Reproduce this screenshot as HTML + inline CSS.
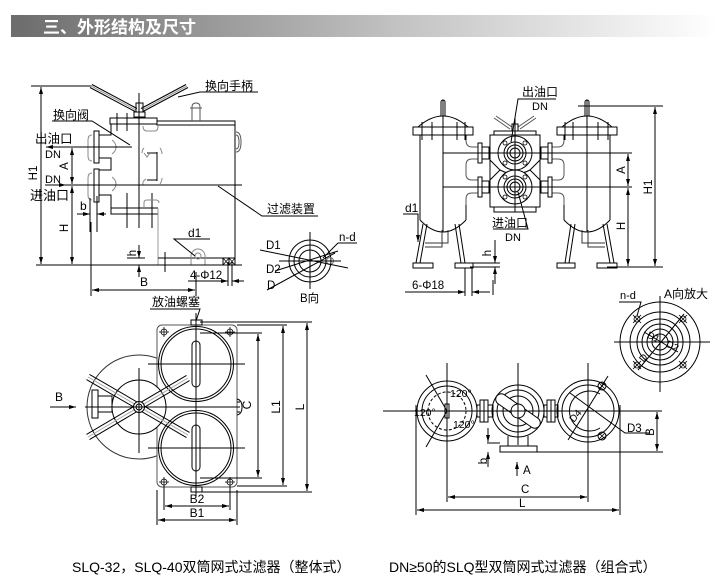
<!DOCTYPE html>
<html><head><meta charset="utf-8"><style>
html,body{margin:0;padding:0;background:#fff;}
svg{display:block;font-family:"Liberation Sans","Noto Sans CJK SC",sans-serif;}
</style></head><body>
<svg width="718" height="583" viewBox="0 0 718 583" xmlns="http://www.w3.org/2000/svg">
<defs>
<linearGradient id="g" x1="0" x2="1" y1="0" y2="0"><stop offset="0" stop-color="#6c6c6c"/><stop offset="0.55" stop-color="#c3c3c3"/><stop offset="1" stop-color="#fff"/></linearGradient>
<marker id="m" markerWidth="7" markerHeight="4" refX="7" refY="2" orient="auto-start-reverse" markerUnits="userSpaceOnUse"><path d="M0,0L7,2L0,4z" fill="#000"/></marker>
</defs>

<!-- header -->
<rect x="11" y="15" width="707" height="22" fill="url(#g)"/>
<text x="43" y="33" font-size="17" font-weight="bold" fill="#fff">三、外形结构及尺寸</text>

<!-- ============ LEFT TOP (side view) ============ -->
<g stroke="#000" stroke-width="1" fill="none">
<path d="M31,86H92"/>
<path d="M41,87V264" marker-start="url(#m)" marker-end="url(#m)"/>
<path d="M92,84.5L137,108.5M90,87.5L135,111.5M186,84.5L141,108.5M188,87.5L143,111.5"/>
<path d="M91,86L136,110M187,86L142,110" stroke="#999"/>
<rect x="136" y="103" width="7" height="9"/>
<rect x="134" y="112" width="11" height="5"/>
<path d="M139,93V228"/>
<rect x="110" y="118" width="47" height="6"/>
<rect x="157" y="121" width="78" height="4"/>
<path d="M117,113V131M127,113V131"/>
<path d="M143,126q0,5 4,5h8q3,0 3,-5" stroke="#888"/>
<path d="M192,121V107q0,-4 4,-4q4,0 4,4V121M190,108H202" stroke="#555"/>
<path d="M236,132q5,0 5,10q0,10 -5,10M236,135q3,0 3,7q0,7 -3,7" stroke="#555"/>
<path d="M235,125V265"/>
<!-- valve body left -->
<path d="M111,124V135H99M99,158H111V170H99M99,195H111V214H158M111,208H158"/>
<rect x="94" y="131" width="5" height="32"/>
<rect x="94" y="169" width="5" height="33"/>
<path d="M92,135q-4,0 -4,5v16q0,5 4,5M92,173q-4,0 -4,5v17q0,5 4,5" stroke="#888"/>
<path d="M112,140q4,3 4,7q0,4 -4,7M112,177q4,3 4,7q0,4 -4,7" stroke="#888"/>
<!-- filter element -->
<path d="M157,152V181M147,153H157M147,180H157"/>
<path d="M144,148q-2,2 -2,5M144,153l3,4l3,-4M143,185q-1,-4 3,-6M160,148q2,3 2,6M160,184q2,-3 2,-6" stroke="#888"/>
<!-- bottom bolts -->
<path d="M127,193V228M152,193V228"/>
<path d="M144,208v-5q0,-3 3,-3h9q3,0 3,3" stroke="#888"/>
<path d="M158,208V265M158,265H200" stroke="#999"/>
<path d="M158,258H223"/>
<path d="M191,265V256a7,7 0 0 1 14,0V265" stroke="#888"/>
<circle cx="198" cy="256" r="3" stroke="#888"/>
<rect x="223" y="258" width="6" height="7"/><rect x="229" y="258" width="6" height="7"/>
<path d="M223,258l6,7M229,258l-6,7M229,258l6,7M235,258l-6,7" stroke-width="0.7"/>
<path d="M36,265H242"/>
<path d="M45,185H242"/>
<path d="M132,147H46" marker-end="url(#m)"/>
<path d="M45,185H66" marker-end="url(#m)"/>
<!-- A / H dims -->
<path d="M72,148V184" marker-start="url(#m)" marker-end="url(#m)"/>
<path d="M72,186V264" marker-start="url(#m)" marker-end="url(#m)"/>
<!-- b dim -->
<path d="M90,198V232M97,196V232"/>
<path d="M77,214H90" marker-end="url(#m)"/>
<path d="M106,214H97" marker-end="url(#m)"/>
<!-- h dim -->
<path d="M127,258H145M127,265H145"/>
<path d="M139,245V258" marker-end="url(#m)"/>
<path d="M139,277V265" marker-end="url(#m)"/>
<path d="M165,252V272"/>
<!-- 4-phi12 -->
<path d="M228,262V286M232,262V286"/>
<path d="M188,281H228" marker-end="url(#m)"/>
<path d="M244,281H232" marker-end="url(#m)"/>
<!-- B dim -->
<path d="M91,222V296M196,272V296"/>
<path d="M92,290H195" marker-start="url(#m)" marker-end="url(#m)"/>
<!-- leaders -->
<path d="M52,121H92L130,145"/>
<path d="M258,92H200L178,97"/>
<path d="M318,216H262L218,186"/>
<path d="M210,239H174L195,256"/>
</g>
<g font-size="12" fill="#000">
<text x="205" y="90">换向手柄</text>
<text x="53" y="119">换向阀</text>
<text x="35" y="143" font-size="12.5">出油口</text>
<text x="45" y="158" font-size="11">DN</text>
<text x="45" y="183" font-size="11">DN</text>
<text x="30" y="200" font-size="13">进油口</text>
<text x="80" y="210">b</text>
<text x="267" y="213">过滤装置</text>
<text x="188" y="237">d1</text>
<text x="190" y="279" font-size="11.5">4-Φ12</text>
<text x="140" y="286">B</text>
<text transform="translate(37,173) rotate(-90)" text-anchor="middle" font-size="11.5">H1</text>
<text transform="translate(68,166) rotate(-90)" text-anchor="middle" font-size="11.5">A</text>
<text transform="translate(68,228) rotate(-90)" text-anchor="middle" font-size="11.5">H</text>
<text transform="translate(136,253) rotate(-90)" text-anchor="middle" font-size="11.5">h</text>
</g>

<!-- B向 view -->
<g stroke="#000" stroke-width="1" fill="none">
<circle cx="310" cy="261" r="21"/>
<circle cx="310" cy="261" r="16"/>
<circle cx="310" cy="261" r="11"/>
<circle cx="330" cy="261" r="3.5" stroke="#777"/>
<path d="M310,232V289M279,261H341"/>
<path d="M260,250L348,268M275,271L338,251M267,290L335,253"/>
<path d="M357,243H338L323,258"/>
</g>
<g font-size="11.5" fill="#000">
<text x="266" y="249">D1</text>
<text x="266" y="273">D2</text>
<text x="267" y="289">D</text>
<text x="339" y="241">n-d</text>
<text x="300" y="302">B向</text>
</g>

<!-- ============ LEFT BOTTOM (top view) ============ -->
<g stroke="#000" stroke-width="1" fill="none">
<path d="M150,309H200L196,321"/>
<circle cx="139" cy="407" r="52" stroke="#333"/>
<rect x="157" y="325" width="80" height="162" rx="5" stroke="#555" fill="#fff"/>
<rect x="191" y="320" width="11" height="5"/>
<rect x="191" y="487" width="11" height="5"/>
<circle cx="196" cy="364" r="37.5" fill="#fff"/><circle cx="196" cy="364" r="35"/>
<circle cx="196" cy="448" r="37.5" fill="#fff"/><circle cx="196" cy="448" r="35"/>
<rect x="192" y="341" width="8" height="46" rx="4"/>
<rect x="192" y="425" width="8" height="46" rx="4"/>
<path d="M196,313V496"/>
<path d="M148,364H245M148,448H245"/>
<g stroke-width="0.8">
<circle cx="164" cy="332" r="3"/><circle cx="230" cy="332" r="3"/><circle cx="164" cy="482" r="3"/><circle cx="230" cy="482" r="3"/>
<path d="M159,332h10M164,327v10M225,332h10M230,327v10M159,482h10M164,477v10M225,482h10M230,477v10"/>
</g>
<circle cx="139" cy="407" r="27" fill="#fff"/>
<path d="M89.5,374.4L189.5,432.4M86.5,379.6L186.5,437.6M86.5,434.4L186.5,375.4M89.5,439.6L189.5,380.6"/>
<path d="M88,377L188,435M88,437L188,378" stroke="#aaa"/>
<circle cx="139" cy="407" r="5.5" fill="#fff"/><circle cx="139" cy="407" r="3"/>
<path d="M139,368V453M85,407H240"/>
<rect x="92" y="390" width="6" height="28"/>
<rect x="98" y="396" width="14" height="16"/>
<path d="M237,399q5,1 5,8q0,7 -5,8M237,402h3M237,412h3"/>
<path d="M50,407H76" marker-end="url(#m)"/>
<!-- dims -->
<path d="M200,333H262M200,478H262M237,325H287M237,486H287M200,322H312M200,492H312"/>
<path d="M258,334V477" marker-start="url(#m)" marker-end="url(#m)"/>
<path d="M283,326V485" marker-start="url(#m)" marker-end="url(#m)"/>
<path d="M307,323V491" marker-start="url(#m)" marker-end="url(#m)"/>
<path d="M164,485V510M230,485V510M157,490V525M237,490V525"/>
<path d="M165,506H229" marker-start="url(#m)" marker-end="url(#m)"/>
<path d="M158,520H236" marker-start="url(#m)" marker-end="url(#m)"/>
</g>
<g font-size="12" fill="#000">
<text x="152" y="306">放油螺塞</text>
<text x="55" y="401">B</text>
<text x="197" y="503" text-anchor="middle">B2</text>
<text x="197" y="517" text-anchor="middle">B1</text>
<text transform="translate(251,405) rotate(-90)" text-anchor="middle">C</text>
<text transform="translate(280,407) rotate(-90)" text-anchor="middle">L1</text>
<text transform="translate(304,407) rotate(-90)" text-anchor="middle">L</text>
</g>

<!-- ============ RIGHT TOP (front view, combined) ============ -->
<g stroke="#000" stroke-width="1" fill="none" id="lt">
<path d="M441,116V102a2,2 0 0 1 4,0V116"/>
<path d="M418,127Q443,105 468,127"/>
<rect x="413" y="127" width="60" height="8"/>
<path d="M422,122V140M432,122V140M457,122V140M465,122V140"/>
<path d="M420,135V220M466,135V140M466,200V220"/>
<path d="M420,220Q443,244 466,220"/>
<path d="M466,140q0,7 6,7h6M478,159h-6q-6,0 -6,6v9q0,6 6,6h6M478,193h-6q-6,0 -6,6V205" stroke="#555"/>
<rect x="478" y="143" width="4" height="20"/><rect x="482" y="147" width="7" height="12"/>
<rect x="478" y="177" width="4" height="20"/><rect x="482" y="181" width="7" height="12"/>
<path d="M423,224L416,263M427,224L420,263M455,224L461,263M459,224L465,263"/>
<rect x="413" y="263" width="20" height="5"/>
<rect x="455" y="263" width="18" height="5"/>
<path d="M442,230V247H425M448,230V243H425" stroke="#333"/>
<path d="M443,100V232"/>
</g>
<use href="#lt" transform="matrix(-1,0,0,1,1030,0)"/>
<g stroke="#000" stroke-width="1" fill="none">
<!-- valve block -->
<rect x="490" y="135" width="50" height="72"/>
<rect x="494" y="131" width="42" height="4"/>
<rect x="494" y="207" width="42" height="5"/>
<path d="M490,160L500,170L490,180M540,160L530,170L540,180"/>
<path d="M500,170q15,8 30,0"/>
<circle cx="515" cy="153" r="17" fill="#fff"/><circle cx="515" cy="153" r="11"/><circle cx="515" cy="153" r="8"/><circle cx="515" cy="153" r="5"/>
<circle cx="515" cy="187" r="17" fill="#fff"/><circle cx="515" cy="187" r="11"/><circle cx="515" cy="187" r="8"/><circle cx="515" cy="187" r="5"/>
<g stroke-width="0.8">
<circle cx="505" cy="143" r="2"/><circle cx="525" cy="143" r="2"/><circle cx="505" cy="163" r="2"/><circle cx="525" cy="163" r="2"/>
<circle cx="505" cy="177" r="2"/><circle cx="525" cy="177" r="2"/><circle cx="505" cy="197" r="2"/><circle cx="525" cy="197" r="2"/>
</g>
<path d="M512,127L496,116M510,129L494,118M518,127L534,116M520,129L536,118" stroke="#555"/>
<rect x="512" y="124" width="6" height="7"/>
<path d="M515,118V212"/>
<path d="M443,153H632M443,187H632"/>
<!-- dims -->
<path d="M578,106H663M607,267H663"/>
<path d="M655,107V266" marker-start="url(#m)" marker-end="url(#m)"/>
<path d="M628,154V186" marker-start="url(#m)" marker-end="url(#m)"/>
<path d="M628,188V266" marker-start="url(#m)" marker-end="url(#m)"/>
<path d="M470,263H500M470,267H500"/>
<path d="M495,240V263" marker-end="url(#m)"/>
<path d="M495,284V267" marker-end="url(#m)"/>
<path d="M465,268V296M472,268V296M493,280V295"/>
<path d="M405,292H465" marker-end="url(#m)"/>
<path d="M490,292H472" marker-end="url(#m)"/>
<!-- leaders -->
<path d="M556,99H518L511,142"/>
<path d="M493,229H528L518,192"/>
<path d="M403,214H418V242" />
<path d="M418,232V242" marker-end="url(#m)"/>
</g>
<g font-size="12" fill="#000">
<text x="522" y="96">出油口</text>
<text x="532" y="110" font-size="11">DN</text>
<text x="492" y="227">进油口</text>
<text x="505" y="241" font-size="11">DN</text>
<text x="405" y="212">d1</text>
<text x="412" y="289" font-size="11.5">6-Φ18</text>
<text transform="translate(625,170) rotate(-90)" text-anchor="middle" font-size="11.5">A</text>
<text transform="translate(625,226) rotate(-90)" text-anchor="middle" font-size="11.5">H</text>
<text transform="translate(652,187) rotate(-90)" text-anchor="middle" font-size="11.5">H1</text>
<text transform="translate(491,253) rotate(-90)" text-anchor="middle" font-size="11.5">h</text>
</g>

<!-- ============ A向放大 ============ -->
<g stroke="#000" stroke-width="1" fill="none">
<circle cx="660" cy="342" r="40"/>
<circle cx="660" cy="342" r="30"/>
<circle cx="660" cy="342" r="23"/>
<circle cx="660" cy="342" r="18"/>
<circle cx="660" cy="342" r="13"/>
<circle cx="660" cy="342" r="8"/>
<g stroke-width="0.8">
<circle cx="637" cy="319" r="3"/><circle cx="683" cy="319" r="3"/><circle cx="637" cy="365" r="3"/><circle cx="683" cy="365" r="3"/>
<path d="M633,315l8,8M641,315l-8,8M679,315l8,8M687,315l-8,8M633,361l8,8M641,361l-8,8M679,361l8,8M687,361l-8,8"/>
</g>
<path d="M614,342H710M660,296V392"/>
<path d="M684,314L638,370M644,332L678,352"/>
<path d="M619,302H641L637,316"/>
</g>
<g fill="#000">
<text x="620" y="299" font-size="11">n-d</text>
<text x="664" y="298" font-size="12">A向放大</text>
<text transform="translate(652,340) rotate(25)" text-anchor="middle" font-size="10">D1</text>
<text transform="translate(671,349) rotate(25)" text-anchor="middle" font-size="10">D2</text>
<text transform="translate(646,360) rotate(-50)" text-anchor="middle" font-size="10">D</text>
</g>

<!-- ============ RIGHT BOTTOM (top view combined) ============ -->
<g stroke="#000" stroke-width="1" fill="none">
<!-- left circle -->
<circle cx="447" cy="411" r="30"/>
<circle cx="447" cy="411" r="25"/>
<circle cx="447" cy="411" r="19" stroke-dasharray="3,2"/>
<rect x="445" y="404" width="4" height="14"/>
<path d="M426,375L447,411L426,447"/>
<!-- pipes & flanges -->
<rect x="477" y="405" width="3" height="12"/>
<rect x="480" y="400" width="8" height="22"/>
<path d="M484,400V422"/>
<rect x="488" y="405" width="5" height="12"/>
<rect x="544" y="405" width="3" height="12"/>
<rect x="547" y="400" width="8" height="22"/>
<path d="M551,400V422"/>
<rect x="555" y="405" width="3" height="12"/>
<!-- middle -->
<circle cx="518" cy="411" r="26"/>
<circle cx="518" cy="411" r="21"/>
<circle cx="518" cy="411" r="15"/>
<rect x="492" y="405.5" width="52" height="11" rx="5.5" transform="rotate(35 518 411)" fill="#fff"/>
<circle cx="518" cy="411" r="7" fill="#fff"/>
<path d="M508,436V446M528,436V446"/>
<rect x="500" y="446" width="37" height="6"/>
<!-- right -->
<circle cx="588" cy="411" r="31"/>
<circle cx="588" cy="411" r="26"/>
<path d="M600,394A20,20 0 1 0 600,428"/>
<circle cx="602" cy="386" r="4"/><circle cx="602" cy="436" r="4"/>
<path d="M599,383l6,6M605,383l-6,6M599,433l6,6M605,433l-6,6" stroke-width="0.8"/>
<path d="M608,376L568,440M570,393L625,433H650"/>
<!-- center lines -->
<path d="M383,411H662"/>
<path d="M447,363V502M518,363V445M588,363V502M416,405V515M620,405V515"/>
<path d="M500,452H663M487,443H500"/>
<!-- dims -->
<path d="M488,428V442" marker-end="url(#m)"/>
<path d="M488,467V452" marker-end="url(#m)"/>
<path d="M657,412V451" marker-start="url(#m)" marker-end="url(#m)"/>
<path d="M517,476V462" marker-end="url(#m)"/>
<path d="M448,497H587" marker-start="url(#m)" marker-end="url(#m)"/>
<path d="M417,510H619" marker-start="url(#m)" marker-end="url(#m)"/>
</g>
<g fill="#000" font-size="11">
<text x="450" y="397" font-size="10.5">120°</text>
<text x="414" y="416" font-size="10.5">120°</text>
<text x="453" y="428" font-size="10.5">120°</text>
<text transform="translate(578,418) rotate(-50)" text-anchor="middle" font-size="10">D4</text>
<text x="627" y="432" font-size="11.5">D3</text>
<text transform="translate(487,461) rotate(-90)" text-anchor="middle" font-size="11.5">b</text>
<text transform="translate(654,432) rotate(-90)" text-anchor="middle" font-size="11.5">B</text>
<text x="523" y="474" font-size="11.5">A</text>
<text x="521" y="493" font-size="11.5">C</text>
<text x="519" y="507" font-size="11.5">L</text>
</g>

<!-- captions -->
<g fill="#000" font-size="14">
<text x="72" y="572">SLQ-32，SLQ-40双筒网式过滤器（整体式）</text>
<text x="389" y="572">DN≥50的SLQ型双筒网式过滤器（组合式）</text>
</g>
</svg>
</body></html>
